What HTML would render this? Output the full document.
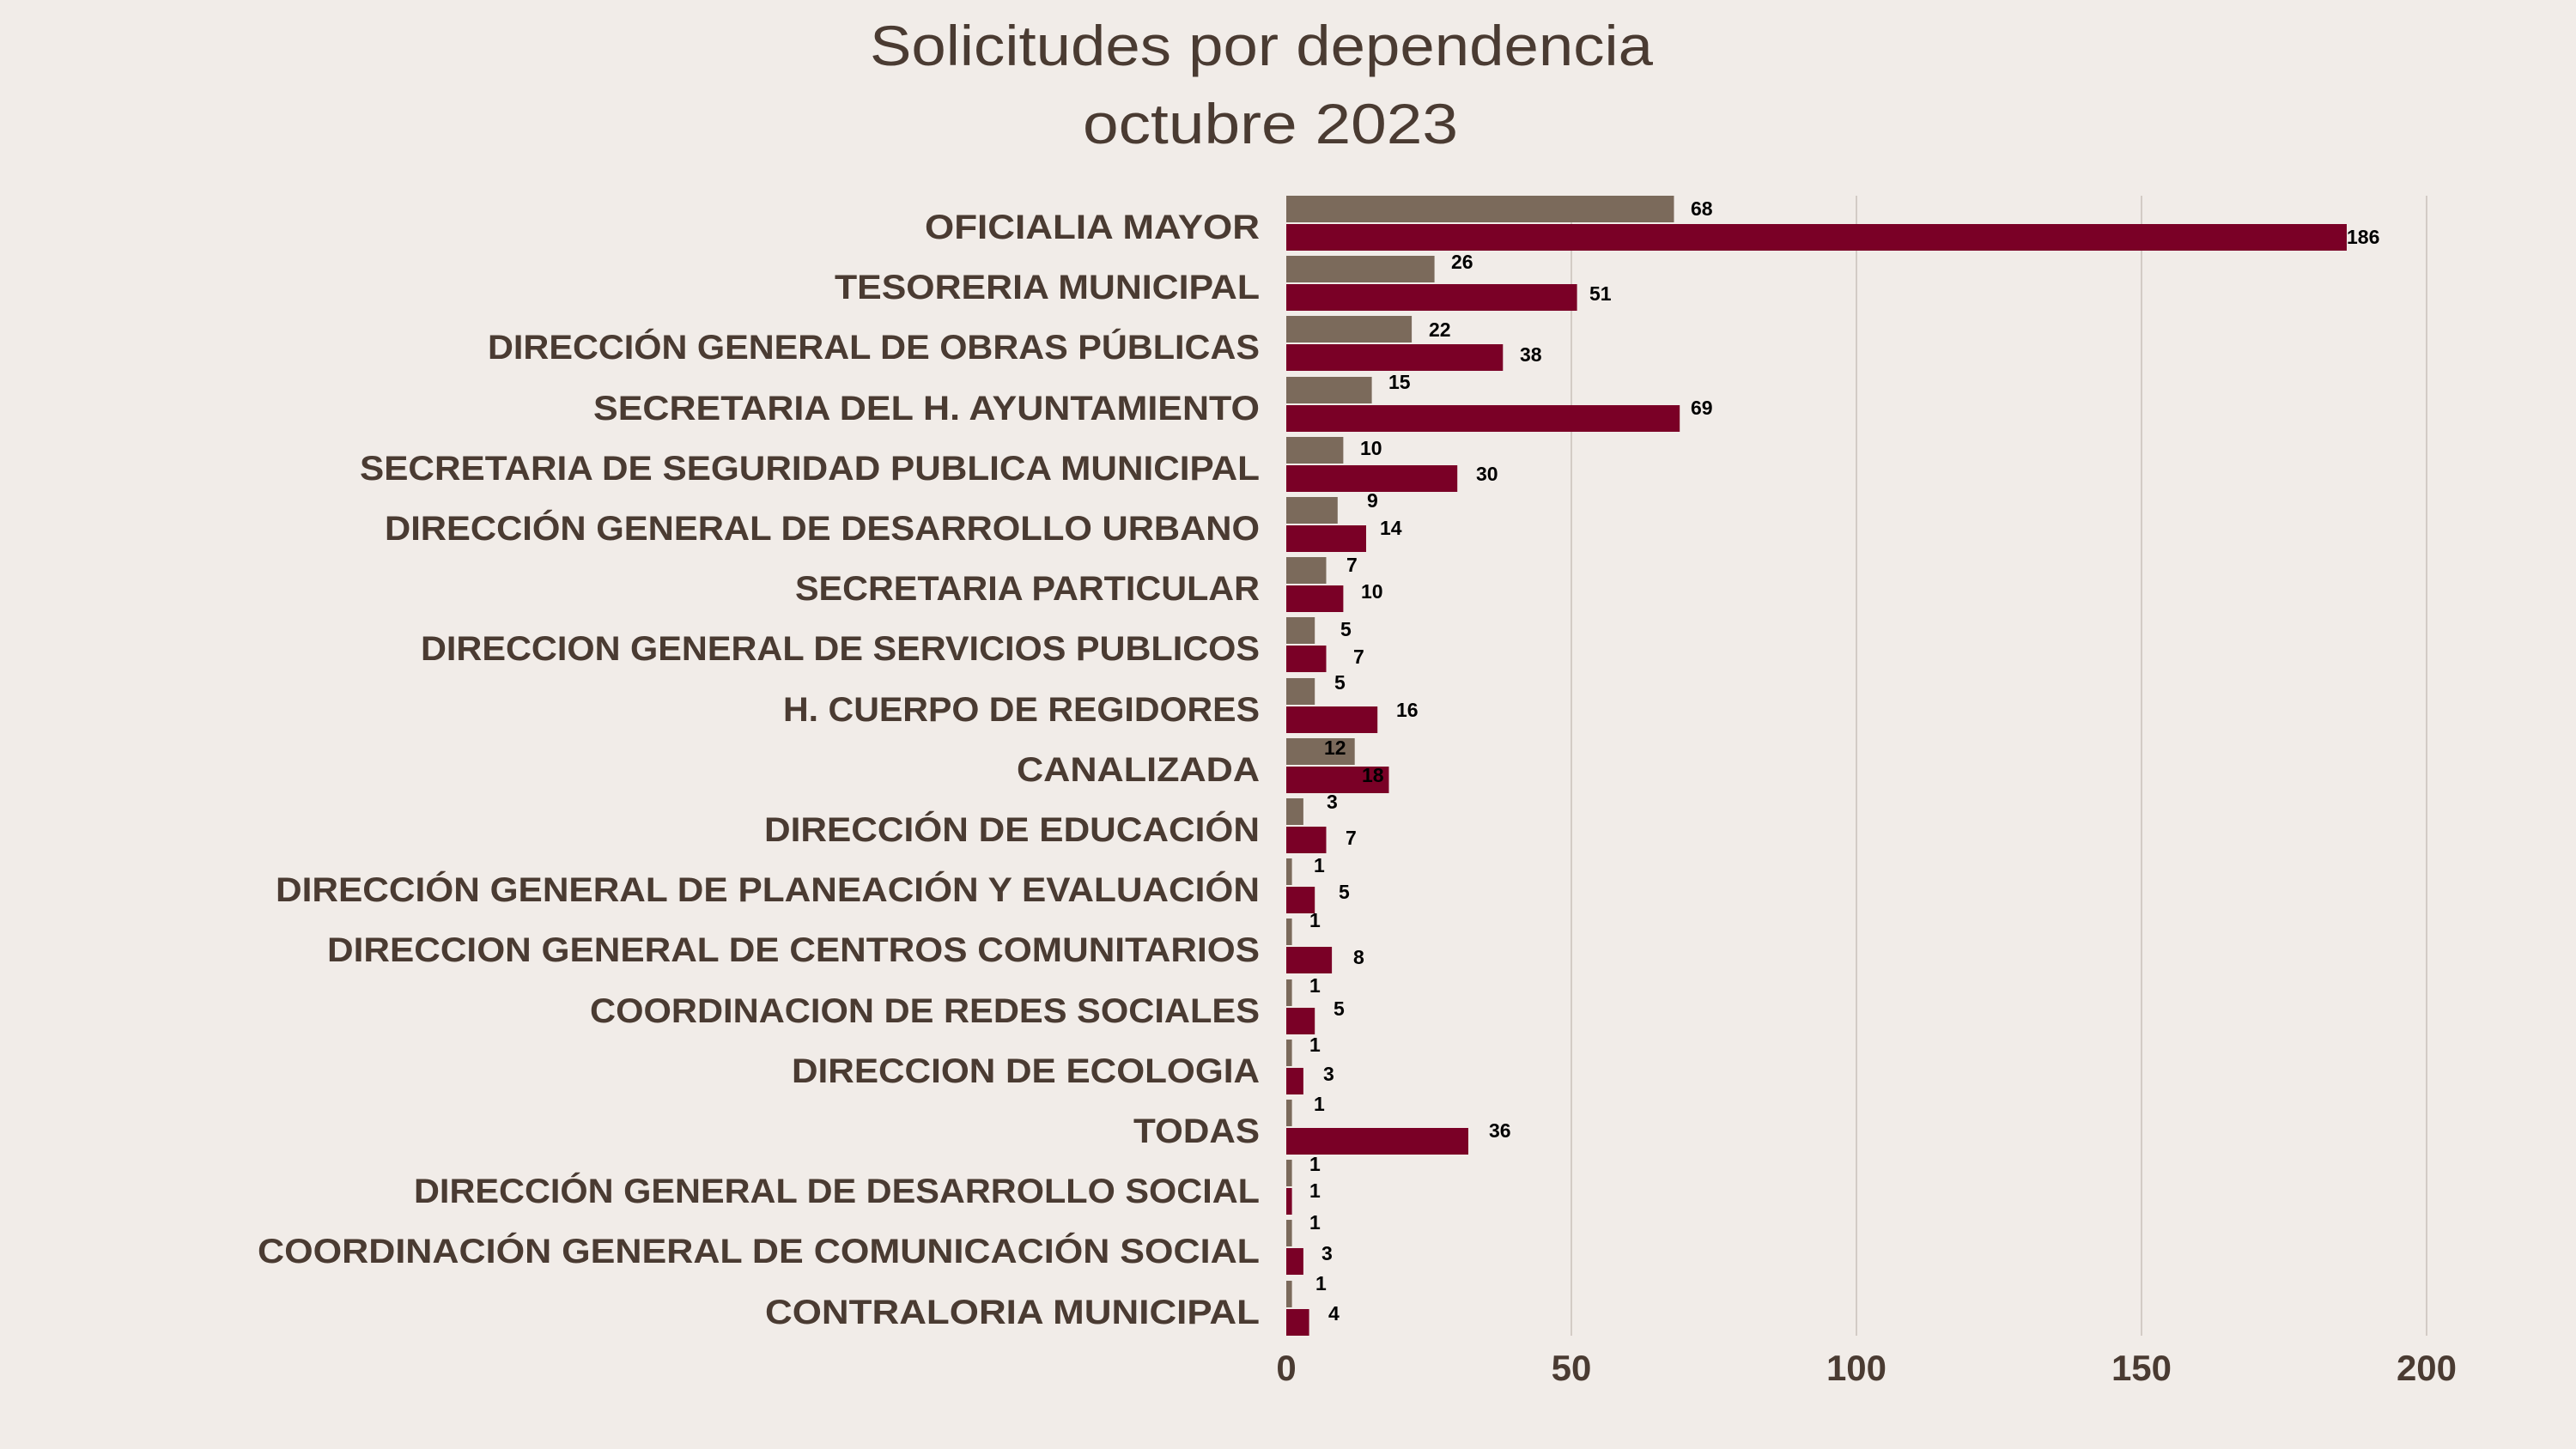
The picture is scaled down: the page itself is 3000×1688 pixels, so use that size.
<!DOCTYPE html>
<html><head><meta charset="utf-8"><style>
html,body{margin:0;padding:0;background:#f1ece8;}
svg{display:block;}
.c{font-family:"Liberation Sans",sans-serif;font-weight:bold;font-size:40px;fill:#4a3b32;text-anchor:end;}
.v{font-family:"Liberation Sans",sans-serif;font-weight:bold;font-size:23px;fill:#000;}
.t{font-family:"Liberation Sans",sans-serif;font-weight:bold;font-size:42px;fill:#4a3b32;text-anchor:middle;}
.h{font-family:"Liberation Sans",sans-serif;font-size:66px;fill:#4a3b32;}
</style></head><body>
<svg width="3000" height="1688" viewBox="0 0 3000 1688" xmlns="http://www.w3.org/2000/svg">
<rect width="3000" height="1688" fill="#f1ece8"/>
<text class="h" x="1013" y="76" textLength="912" lengthAdjust="spacingAndGlyphs">Solicitudes por dependencia</text>
<text class="h" x="1261" y="167" textLength="437" lengthAdjust="spacingAndGlyphs">octubre 2023</text>
<g stroke="#d3cbc5" stroke-width="2">
<line x1="1830" y1="228" x2="1830" y2="1556"/><line x1="2162" y1="228" x2="2162" y2="1556"/><line x1="2494" y1="228" x2="2494" y2="1556"/><line x1="2826" y1="228" x2="2826" y2="1556"/>
</g>
<g fill="#7b6a5b">
<rect x="1498" y="228" width="451.5" height="31"/>
<rect x="1498" y="298" width="172.6" height="31"/>
<rect x="1498" y="368" width="146.1" height="31"/>
<rect x="1498" y="439" width="99.6" height="31"/>
<rect x="1498" y="509" width="66.4" height="31"/>
<rect x="1498" y="579" width="59.8" height="31"/>
<rect x="1498" y="649" width="46.5" height="31"/>
<rect x="1498" y="719" width="33.2" height="31"/>
<rect x="1498" y="790" width="33.2" height="31"/>
<rect x="1498" y="860" width="79.7" height="31"/>
<rect x="1498" y="930" width="19.9" height="31"/>
<rect x="1498" y="1000" width="6.6" height="31"/>
<rect x="1498" y="1070" width="6.6" height="31"/>
<rect x="1498" y="1141" width="6.6" height="31"/>
<rect x="1498" y="1211" width="6.6" height="31"/>
<rect x="1498" y="1281" width="6.6" height="31"/>
<rect x="1498" y="1351" width="6.6" height="31"/>
<rect x="1498" y="1421" width="6.6" height="31"/>
<rect x="1498" y="1492" width="6.6" height="31"/>
</g>
<g fill="#7a0026">
<rect x="1498" y="261" width="1235" height="31"/>
<rect x="1498" y="331" width="338.6" height="31"/>
<rect x="1498" y="401" width="252.3" height="31"/>
<rect x="1498" y="472" width="458.2" height="31"/>
<rect x="1498" y="542" width="199.2" height="31"/>
<rect x="1498" y="612" width="93" height="31"/>
<rect x="1498" y="682" width="66.4" height="31"/>
<rect x="1498" y="752" width="46.5" height="31"/>
<rect x="1498" y="823" width="106.2" height="31"/>
<rect x="1498" y="893" width="119.5" height="31"/>
<rect x="1498" y="963" width="46.5" height="31"/>
<rect x="1498" y="1033" width="33.2" height="31"/>
<rect x="1498" y="1103" width="53.1" height="31"/>
<rect x="1498" y="1174" width="33.2" height="31"/>
<rect x="1498" y="1244" width="19.9" height="31"/>
<rect x="1498" y="1314" width="212" height="31"/>
<rect x="1498" y="1384" width="6.6" height="31"/>
<rect x="1498" y="1454" width="19.9" height="31"/>
<rect x="1498" y="1525" width="26.6" height="31"/>
</g>
<g class="v">
<text class="v" x="1969" y="251">68</text>
<text class="v" x="1690" y="313">26</text>
<text class="v" x="1664" y="392">22</text>
<text class="v" x="1617" y="453">15</text>
<text class="v" x="1584" y="530">10</text>
<text class="v" x="1592" y="591">9</text>
<text class="v" x="1568" y="666">7</text>
<text class="v" x="1561" y="741">5</text>
<text class="v" x="1554" y="803">5</text>
<text class="v" x="1542" y="879">12</text>
<text class="v" x="1545" y="942">3</text>
<text class="v" x="1530" y="1016">1</text>
<text class="v" x="1525" y="1080">1</text>
<text class="v" x="1525" y="1156">1</text>
<text class="v" x="1525" y="1225">1</text>
<text class="v" x="1530" y="1294">1</text>
<text class="v" x="1525" y="1364">1</text>
<text class="v" x="1525" y="1432">1</text>
<text class="v" x="1532" y="1503">1</text>

<text class="v" x="2733" y="284">186</text>
<text class="v" x="1851" y="350">51</text>
<text class="v" x="1770" y="421">38</text>
<text class="v" x="1969" y="483">69</text>
<text class="v" x="1719" y="560">30</text>
<text class="v" x="1607" y="623">14</text>
<text class="v" x="1585" y="697">10</text>
<text class="v" x="1576" y="773">7</text>
<text class="v" x="1626" y="835">16</text>
<text class="v" x="1586" y="911">18</text>
<text class="v" x="1567" y="984">7</text>
<text class="v" x="1559" y="1047">5</text>
<text class="v" x="1576" y="1123">8</text>
<text class="v" x="1553" y="1183">5</text>
<text class="v" x="1541" y="1259">3</text>
<text class="v" x="1734" y="1325">36</text>
<text class="v" x="1525" y="1395">1</text>
<text class="v" x="1539" y="1468">3</text>
<text class="v" x="1547" y="1538">4</text>
</g>
<g class="c">
<text class="c" x="1467" y="278" textLength="390" lengthAdjust="spacingAndGlyphs">OFICIALIA MAYOR</text>
<text class="c" x="1467" y="348" textLength="495" lengthAdjust="spacingAndGlyphs">TESORERIA MUNICIPAL</text>
<text class="c" x="1467" y="418" textLength="899" lengthAdjust="spacingAndGlyphs">DIRECCIÓN GENERAL DE OBRAS PÚBLICAS</text>
<text class="c" x="1467" y="489" textLength="776" lengthAdjust="spacingAndGlyphs">SECRETARIA DEL H. AYUNTAMIENTO</text>
<text class="c" x="1467" y="559" textLength="1048" lengthAdjust="spacingAndGlyphs">SECRETARIA DE SEGURIDAD PUBLICA MUNICIPAL</text>
<text class="c" x="1467" y="629" textLength="1019" lengthAdjust="spacingAndGlyphs">DIRECCIÓN GENERAL DE DESARROLLO URBANO</text>
<text class="c" x="1467" y="699" textLength="541" lengthAdjust="spacingAndGlyphs">SECRETARIA PARTICULAR</text>
<text class="c" x="1467" y="769" textLength="977" lengthAdjust="spacingAndGlyphs">DIRECCION GENERAL DE SERVICIOS PUBLICOS</text>
<text class="c" x="1467" y="840" textLength="555" lengthAdjust="spacingAndGlyphs">H. CUERPO DE REGIDORES</text>
<text class="c" x="1467" y="910" textLength="283" lengthAdjust="spacingAndGlyphs">CANALIZADA</text>
<text class="c" x="1467" y="980" textLength="577" lengthAdjust="spacingAndGlyphs">DIRECCIÓN DE EDUCACIÓN</text>
<text class="c" x="1467" y="1050" textLength="1146" lengthAdjust="spacingAndGlyphs">DIRECCIÓN GENERAL DE PLANEACIÓN Y EVALUACIÓN</text>
<text class="c" x="1467" y="1120" textLength="1086" lengthAdjust="spacingAndGlyphs">DIRECCION GENERAL DE CENTROS COMUNITARIOS</text>
<text class="c" x="1467" y="1191" textLength="780" lengthAdjust="spacingAndGlyphs">COORDINACION DE REDES SOCIALES</text>
<text class="c" x="1467" y="1261" textLength="545" lengthAdjust="spacingAndGlyphs">DIRECCION DE ECOLOGIA</text>
<text class="c" x="1467" y="1331" textLength="147" lengthAdjust="spacingAndGlyphs">TODAS</text>
<text class="c" x="1467" y="1401" textLength="985" lengthAdjust="spacingAndGlyphs">DIRECCIÓN GENERAL DE DESARROLLO SOCIAL</text>
<text class="c" x="1467" y="1471" textLength="1167" lengthAdjust="spacingAndGlyphs">COORDINACIÓN GENERAL DE COMUNICACIÓN SOCIAL</text>
<text class="c" x="1467" y="1542" textLength="576" lengthAdjust="spacingAndGlyphs">CONTRALORIA MUNICIPAL</text>
</g>
<g class="t">
<text class="t" x="1498" y="1608">0</text>
<text class="t" x="1830" y="1608">50</text>
<text class="t" x="2162" y="1608">100</text>
<text class="t" x="2494" y="1608">150</text>
<text class="t" x="2826" y="1608">200</text>
</g>
</svg>
</body></html>
